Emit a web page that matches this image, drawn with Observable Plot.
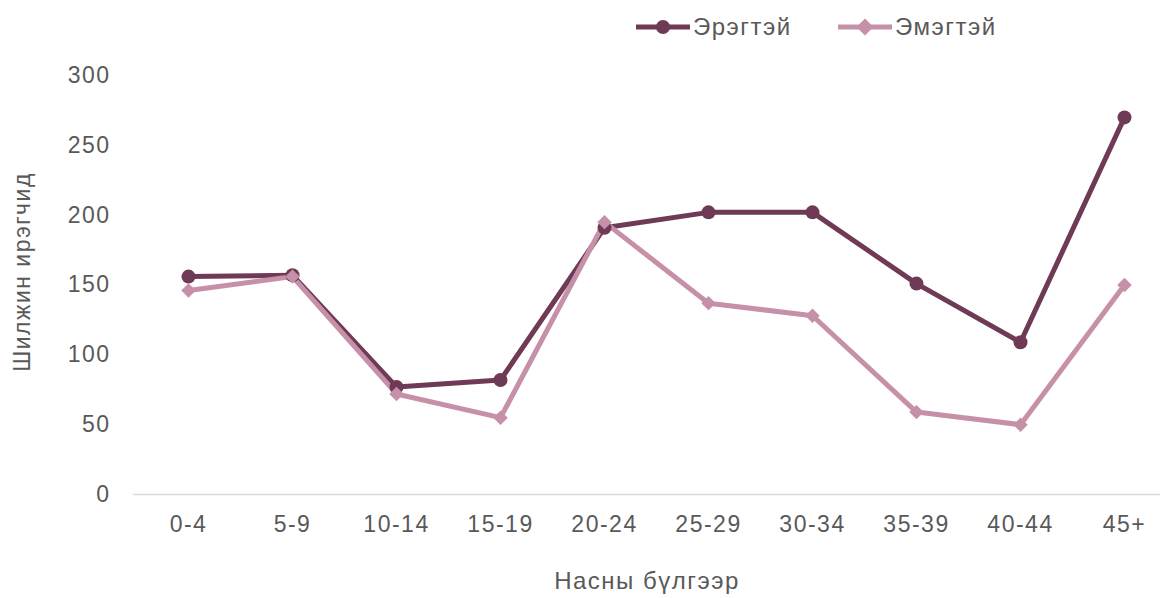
<!DOCTYPE html>
<html><head><meta charset="utf-8">
<script src="https://cdn.jsdelivr.net/npm/d3@7"></script>
<script src="https://cdn.jsdelivr.net/npm/@observablehq/plot@0.6"></script>
<style>
body{margin:0;background:#fff;font-family:"Liberation Sans",Arial,sans-serif;}
#legend{position:relative;height:55px;width:1168px;}
.item{position:absolute;top:13px;display:flex;align-items:center;font-size:24px;letter-spacing:1.5px;color:#595959;}
</style></head>
<body>
<div id="legend"></div>
<div id="chart"></div>
<script>
const ageGroups = ["0-4","5-9","10-14","15-19","20-24","25-29","30-34","35-39","40-44","45+"];
const male = [156,157,77,82,191,202,202,151,109,270];
const female = [146,156,72,55,195,137,128,59,50,150];
const seriesNames = ["Эрэгтэй","Эмэгтэй"];
const colors = ["#6e3a56","#c690a9"];
const yTicks = [0,50,100,150,200,250,300];
const yTitle = "Шилжин ирэгчид";
const xTitle = "Насны бүлгээр";

const rows = [];
ageGroups.forEach((g,i)=>{
  rows.push({age:g, value:male[i], s:seriesNames[0]});
  rows.push({age:g, value:female[i], s:seriesNames[1]});
});
const maleRows = rows.filter(d=>d.s===seriesNames[0]);
const femaleRows = rows.filter(d=>d.s===seriesNames[1]);

// legend
const legend = document.getElementById("legend");
const legPos = [636, 838];
seriesNames.forEach((n,i)=>{
  const div = document.createElement("div");
  div.className="item";
  div.style.left = legPos[i]+"px";
  const marker = i===0
    ? `<circle cx="27" cy="14" r="7" fill="${colors[i]}"/>`
    : `<rect x="21" y="8" width="12" height="12" fill="${colors[i]}" transform="rotate(45 27 14)"/>`;
  div.innerHTML = `<svg width="56" height="28"><line x1="0" x2="54" y1="14" y2="14" stroke="${colors[i]}" stroke-width="5"/>${marker}</svg><span style="margin-left:1px">${n}</span>`;
  legend.appendChild(div);
});

const chart = Plot.plot({
  width:1168, height:543,
  marginLeft:133, marginRight:8, marginTop:20, marginBottom:104,
  style:{fontFamily:"Liberation Sans, Arial, sans-serif", fontSize:"23px", letterSpacing:"1.5px", color:"#595959", background:"#fff"},
  x:{type:"point", domain:ageGroups, range:[185,1126], padding:0},
  y:{domain:[0,300], ticks:yTicks},
  marks:[
    Plot.ruleY([0],{stroke:"#d9d9d9", strokeWidth:1.5}),
    Plot.axisY({ticks:yTicks, tickSize:0, tickPadding:23, label:null, fill:"#595959", fontSize:23}),
    Plot.axisX({tickSize:0, tickPadding:21, label:null, fill:"#595959", fontSize:23}),
    Plot.lineY(maleRows,{x:"age", y:"value", stroke:colors[0], strokeWidth:5}),
    Plot.lineY(femaleRows,{x:"age", y:"value", stroke:colors[1], strokeWidth:5}),
    Plot.dot(maleRows,{x:"age", y:"value", fill:colors[0], r:7, symbol:"circle"}),
    Plot.dot(femaleRows,{x:"age", y:"value", fill:colors[1], r:6.5, symbol:"diamond2"}),
    Plot.text([yTitle],{frameAnchor:"left", textAnchor:"middle", rotate:-90, dx:-111, dy:-13, fontSize:23, fill:"#595959"}),
    Plot.text([xTitle],{frameAnchor:"bottom", dy:94, fontSize:24, fill:"#595959"})
  ]
});
document.getElementById("chart").appendChild(chart);
</script>
</body></html>
